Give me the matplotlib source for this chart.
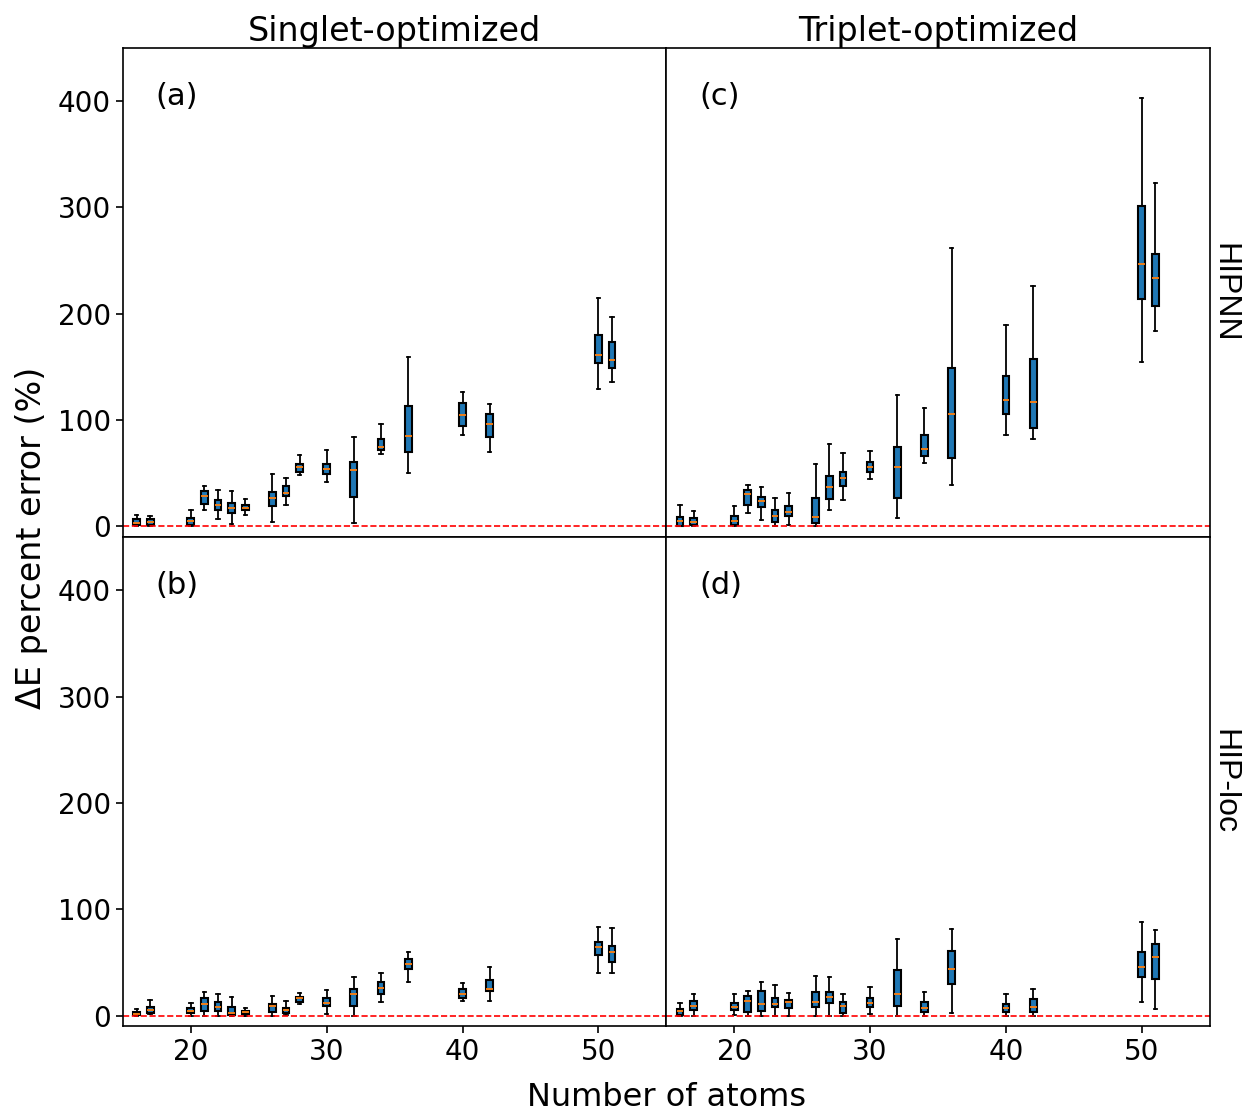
import matplotlib.pyplot as plt

# atom counts (box positions)
n_atoms = [16, 17, 20, 21, 22, 23, 24, 26, 27, 28, 30, 32, 34, 36, 40, 42, 50, 51]

# (a) HIPNN, singlet-optimized: whislo, q1, median, q3, whishi
a_lo  = [0.0, 0.5, 0.0, 15.4, 7.0, 2.2, 10.3, 3.8, 20.4, 48.3, 42.0, 3.1, 67.7, 50.1, 86.2, 70.2, 129.5, 135.7]
a_q1  = [1.6, 1.5, 1.0, 21.0, 15.0, 12.5, 15.0, 19.4, 28.5, 50.8, 49.2, 27.3, 71.8, 70.3, 94.4, 83.7, 153.7, 149.0]
a_med = [3.5, 4.0, 4.7, 28.5, 20.4, 17.6, 17.6, 26.6, 31.4, 55.8, 54.2, 52.7, 74.6, 84.7, 104.7, 96.3, 160.9, 156.2]
a_q3  = [6.6, 7.0, 7.8, 33.2, 25.0, 22.3, 20.4, 32.6, 38.0, 58.6, 58.6, 60.5, 82.1, 113.5, 115.7, 105.4, 180.0, 173.1]
a_hi  = [10.3, 10.0, 15.0, 37.6, 34.5, 33.2, 25.7, 49.2, 45.8, 67.0, 71.8, 84.0, 96.0, 159.6, 126.0, 114.8, 215.0, 196.6]

# (b) HIP-loc, singlet-optimized
b_lo  = [0.0, 1.0, 0.0, 0.0, 0.0, 0.0, 0.0, 0.0, 0.5, 11.3, 1.0, 0.0, 13.2, 31.6, 13.4, 13.8, 40.4, 40.0]
b_q1  = [0.3, 2.8, 2.2, 4.4, 4.4, 0.6, 1.6, 3.1, 2.8, 12.5, 8.8, 9.0, 19.8, 43.5, 16.3, 22.9, 57.0, 49.9]
b_med = [1.9, 5.6, 4.4, 11.0, 8.5, 2.8, 3.1, 9.0, 5.3, 16.3, 12.2, 20.0, 26.0, 48.5, 20.0, 25.0, 64.3, 60.2]
b_q3  = [3.1, 8.5, 7.2, 16.3, 13.2, 8.1, 4.7, 11.3, 7.5, 17.9, 16.9, 25.0, 32.0, 53.2, 25.0, 33.5, 69.6, 65.5]
b_hi  = [6.3, 15.0, 12.2, 22.2, 20.7, 17.2, 7.5, 18.2, 13.4, 21.0, 24.1, 36.0, 40.0, 59.8, 30.7, 45.4, 83.4, 82.8]

# (c) HIPNN, triplet-optimized
c_lo  = [0.0, 0.3, 0.0, 12.9, 5.9, 0.0, 1.0, 0.0, 15.4, 24.8, 44.5, 7.5, 59.6, 39.2, 86.2, 82.0, 154.9, 183.7]
c_q1  = [0.6, 0.9, 1.3, 19.8, 18.2, 4.0, 9.7, 3.5, 26.0, 38.2, 51.0, 27.0, 66.2, 64.6, 106.0, 92.5, 214.2, 207.6]
c_med = [5.0, 4.4, 4.8, 30.1, 23.8, 9.7, 13.8, 9.1, 37.0, 45.1, 56.1, 56.0, 72.4, 105.7, 118.8, 117.0, 247.1, 234.0]
c_q3  = [8.8, 7.5, 9.4, 34.2, 27.6, 15.7, 18.8, 27.0, 47.7, 51.0, 60.8, 75.0, 86.3, 149.3, 141.0, 157.4, 301.3, 256.5]
c_hi  = [19.8, 14.4, 19.1, 38.9, 37.0, 26.3, 31.4, 58.3, 77.4, 68.6, 71.1, 124.0, 111.0, 261.5, 189.0, 226.4, 403.3, 323.0]

# (d) HIP-loc, triplet-optimized
d_lo  = [0.0, 0.0, 0.5, 0.0, 0.0, 0.0, 0.0, 0.0, 0.0, 0.0, 1.0, 0.0, 0.0, 2.2, 0.0, 0.0, 12.8, 6.2]
d_q1  = [0.6, 5.0, 5.3, 3.4, 4.4, 7.8, 7.2, 8.5, 11.6, 2.8, 8.5, 8.8, 3.4, 29.7, 3.1, 3.8, 36.3, 34.8]
d_med = [4.1, 9.4, 8.1, 14.1, 11.0, 11.3, 12.5, 12.5, 17.6, 8.8, 12.2, 20.0, 7.2, 43.6, 6.9, 8.1, 45.7, 54.6]
d_q3  = [6.6, 14.1, 12.2, 18.8, 23.2, 16.9, 15.0, 22.2, 21.9, 13.2, 16.9, 43.2, 13.2, 60.8, 10.9, 16.0, 59.3, 67.7]
d_hi  = [11.9, 20.0, 20.3, 23.5, 31.3, 29.2, 21.0, 37.3, 36.0, 20.3, 26.6, 72.4, 22.2, 81.5, 20.7, 25.4, 87.8, 80.2]

col_titles = ["Singlet-optimized", "Triplet-optimized"]
row_labels = ["HIPNN", "HIP-loc"]


def make_stats(lo, q1, med, q3, hi):
    return [dict(whislo=w0, q1=a, med=m, q3=b, whishi=w1, fliers=[])
            for w0, a, m, b, w1 in zip(lo, q1, med, q3, hi)]


panels = {
    (0, 0): ("(a)", make_stats(a_lo, a_q1, a_med, a_q3, a_hi)),
    (1, 0): ("(b)", make_stats(b_lo, b_q1, b_med, b_q3, b_hi)),
    (0, 1): ("(c)", make_stats(c_lo, c_q1, c_med, c_q3, c_hi)),
    (1, 1): ("(d)", make_stats(d_lo, d_q1, d_med, d_q3, d_hi)),
}

fig, axes = plt.subplots(2, 2, figsize=(12.42, 11.13), dpi=100, sharex=True, sharey=True)
fig.subplots_adjust(left=0.099, right=0.974, top=0.957, bottom=0.078, hspace=0, wspace=0)

for (r, c), (tag, stats) in panels.items():
    ax = axes[r, c]
    ax.bxp(stats, positions=n_atoms, widths=0.5, patch_artist=True, showfliers=False,
           boxprops=dict(facecolor='C0', edgecolor='black', linewidth=1.5),
           medianprops=dict(color='C1', linewidth=1.3),
           whiskerprops=dict(color='black', linewidth=1.3),
           capprops=dict(color='black', linewidth=1.3))
    ax.axhline(0, color='red', linestyle='--', linewidth=1.2)
    ax.text(0.06, 0.93, tag, transform=ax.transAxes, fontsize=22, va='top')
    ax.tick_params(labelsize=20, length=5, width=1.2,
                   left=(c == 0), bottom=(r == 1))
    for s in ax.spines.values():
        s.set_linewidth(1.2)

ax0 = axes[0, 0]
ax0.set_xlim(15, 55)
ax0.set_ylim(-10, 450)
ax0.set_xticks([20, 30, 40, 50])
ax0.set_xticklabels(['20', '30', '40', '50'])
ax0.set_yticks([0, 100, 200, 300, 400])

for c, t in enumerate(col_titles):
    axes[0, c].set_title(t, fontsize=24, pad=5)
for r, t in enumerate(row_labels):
    axes[r, 1].text(1.0, 0.5, t, transform=axes[r, 1].transAxes, rotation=-90,
                    fontsize=23, family='Liberation Sans', va='center', ha='left')

fig.text(0.025, 0.517, "ΔE percent error (%)", rotation=90, fontsize=24, va='center', ha='center')
fig.text(0.537, 0.014, "Number of atoms", fontsize=23, va='center', ha='center')

plt.savefig('out.png')
